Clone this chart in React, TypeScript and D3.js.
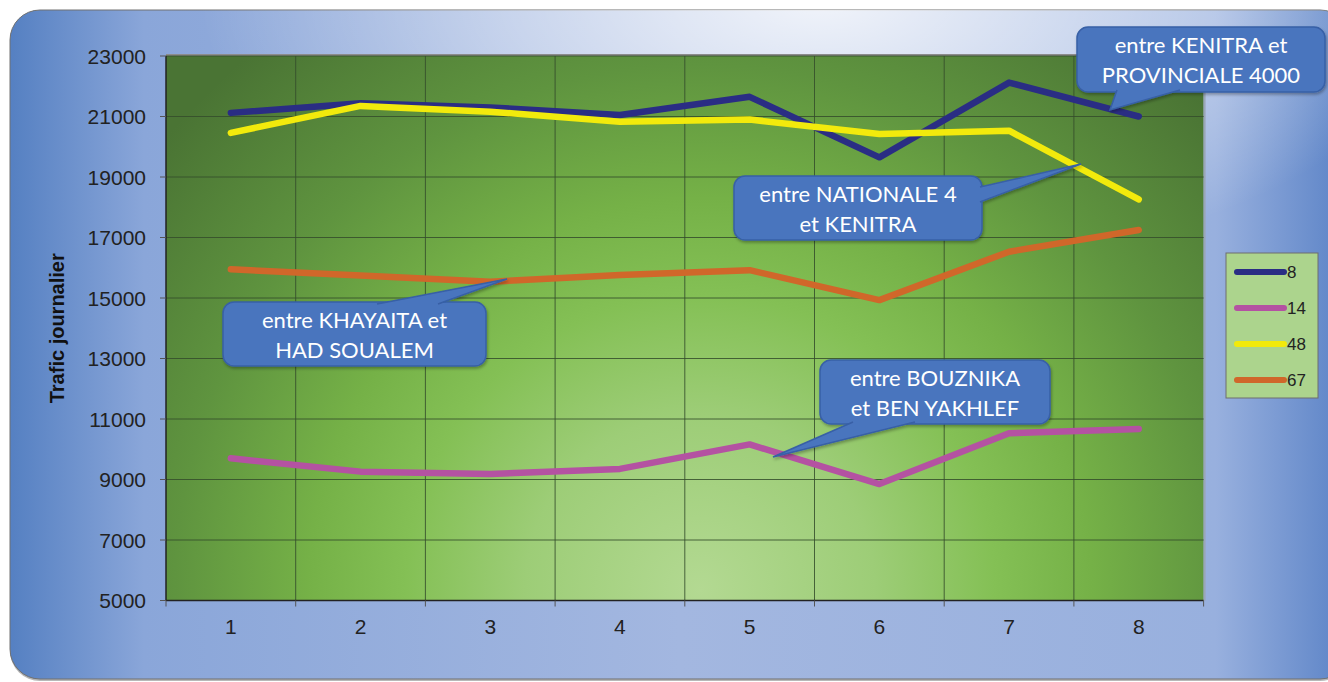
import React from "react";
import * as d3 from "d3";

const categories = ["1", "2", "3", "4", "5", "6", "7", "8"];
const yTicks = [5000, 7000, 9000, 11000, 13000, 15000, 17000, 19000, 21000, 23000];
const seriesNames = ["8", "14", "48", "67"];
const s8 = [21120, 21440, 21300, 21050, 21650, 19650, 22120, 21000];
const s14 = [9700, 9260, 9180, 9350, 10160, 8850, 10530, 10670];
const s48 = [20460, 21350, 21160, 20830, 20900, 20420, 20530, 18260];
const s67 = [15950, 15740, 15540, 15760, 15920, 14930, 16530, 17250];
const seriesColors = ["#2a2d84", "#b452a2", "#f2ea0c", "#d0672a"];
const calloutTexts = [
  ["entre KENITRA et", "PROVINCIALE 4000"],
  ["entre NATIONALE 4", "et KENITRA"],
  ["entre KHAYAITA et", "HAD SOUALEM"],
  ["entre BOUZNIKA", "et BEN YAKHLEF"],
];

const W = 1328;
const H = 682;
const plot = { left: 166, right: 1203.6, top: 56, bottom: 600.5 };

export default function App() {
  const data = [s8, s14, s48, s67];
  const x = d3.scaleBand<string>().domain(categories).range([plot.left, plot.right]).padding(0);
  const cx = (c: string) => (x(c) as number) + x.bandwidth() / 2;
  const y = d3.scaleLinear().domain([5000, 23000]).range([plot.bottom, plot.top]);
  const line = d3
    .line<number>()
    .x((_, i) => cx(categories[i]))
    .y((v) => y(v));

  const boxes = [
    { x0: 1077, y0: 27, x1: 1325, y1: 92, base: [[1117, 92], [1180, 92]] },
    { x0: 734, y0: 176, x1: 982, y1: 240, base: [[982, 187], [982, 202]] },
    { x0: 223, y0: 302, x1: 486, y1: 366, base: [[377, 302], [438, 302]] },
    { x0: 820, y0: 360, x1: 1050, y1: 424, base: [[853, 424], [915, 424]] },
  ];
  const tips = [
    [1110, 110],
    [1081, 164],
    [507, 279],
    [773, 457],
  ];

  return (
    <svg
      width={W}
      height={H}
      style={{ position: "absolute", left: 0, top: 0, background: "#ffffff" }}
      fontFamily="'Liberation Sans', Arial, sans-serif"
    >
      <defs>
        <linearGradient id="bgLin" x1="0" y1="0" x2="1" y2="0">
          <stop offset="0" stopColor="#5580c2" />
          <stop offset="0.1" stopColor="#8aa6d9" />
          <stop offset="0.5" stopColor="#a3b7e0" />
          <stop offset="0.9" stopColor="#98b0de" />
          <stop offset="1" stopColor="#5a82c6" />
        </linearGradient>
        <radialGradient
          id="bgRad"
          gradientUnits="userSpaceOnUse"
          cx="820"
          cy="0"
          r="620"
          gradientTransform="translate(820 0) scale(1 0.45) translate(-820 0)"
        >
          <stop offset="0" stopColor="#ffffff" stopOpacity="0.85" />
          <stop offset="0.5" stopColor="#ffffff" stopOpacity="0.45" />
          <stop offset="1" stopColor="#ffffff" stopOpacity="0" />
        </radialGradient>
        <radialGradient id="plotGrad" gradientUnits="userSpaceOnUse" cx="700" cy="590" r="700">
          <stop offset="0" stopColor="#b3d992" />
          <stop offset="0.25" stopColor="#9dcd77" />
          <stop offset="0.42" stopColor="#84c055" />
          <stop offset="0.56" stopColor="#75b147" />
          <stop offset="0.75" stopColor="#5f943f" />
          <stop offset="1" stopColor="#4a7434" />
        </radialGradient>
        <filter id="shadow" x="-10%" y="-10%" width="130%" height="140%">
          <feDropShadow dx="1" dy="2" stdDeviation="1.5" floodColor="#000" floodOpacity="0.3" />
        </filter>
      </defs>

      {/* outer frame */}
      <rect x={10} y={11} width={1340} height={670} rx={30} fill="#b8b8b8" />
      <rect x={10} y={10} width={1340} height={669} rx={30} fill="url(#bgLin)" stroke="#707070" strokeWidth={1} />
      <rect x={10} y={10} width={1340} height={669} rx={30} fill="url(#bgRad)" />

      {/* plot area */}
      <rect
        x={plot.left}
        y={plot.top}
        width={plot.right - plot.left}
        height={plot.bottom - plot.top}
        fill="url(#plotGrad)"
      />
      <line x1={plot.left} x2={plot.right} y1={plot.top - 1} y2={plot.top - 1} stroke="#8c8c8c" strokeWidth={2} />
      <line x1={plot.right + 1} x2={plot.right + 1} y1={plot.top} y2={plot.bottom} stroke="#9aa6b8" strokeWidth={2} />

      {yTicks.slice(1).map((t) => (
        <line key={"h" + t} x1={plot.left} x2={plot.right} y1={y(t)} y2={y(t)} stroke="#354d2b" strokeWidth={1} strokeOpacity={0.85} />
      ))}
      {categories.slice(1).map((c) => (
        <line key={"v" + c} x1={x(c) as number} x2={x(c) as number} y1={plot.top} y2={plot.bottom} stroke="#354d2b" strokeWidth={1} strokeOpacity={0.85} />
      ))}

      <line x1={plot.left} x2={plot.left} y1={plot.top} y2={plot.bottom} stroke="#222" strokeWidth={1.5} />
      <line x1={plot.left} x2={plot.right} y1={plot.bottom} y2={plot.bottom} stroke="#222" strokeWidth={1.5} />
      {yTicks.map((t) => (
        <g key={"yt" + t}>
          <line x1={plot.left - 6} x2={plot.left} y1={y(t)} y2={y(t)} stroke="#555" strokeWidth={1} />
          <text x={146} y={y(t)} dy="0.36em" textAnchor="end" fontSize={21} fill="#222">
            {t}
          </text>
        </g>
      ))}
      {[...categories.map((c) => x(c) as number), plot.right].map((px, i) => (
        <line key={"xt" + i} x1={px} x2={px} y1={plot.bottom} y2={plot.bottom + 6} stroke="#555" strokeWidth={1} />
      ))}
      {categories.map((c) => (
        <text key={"xl" + c} x={cx(c)} y={634} textAnchor="middle" fontSize={21} fill="#222">
          {c}
        </text>
      ))}
      <text
        transform={`translate(64 ${(plot.top + plot.bottom) / 2}) rotate(-90)`}
        textAnchor="middle"
        fontSize={20}
        fontWeight="bold"
        fill="#111"
      >
        Trafic journalier
      </text>

      {data.map((d, i) => (
        <path
          key={"s" + i}
          d={line(d) as string}
          fill="none"
          stroke={seriesColors[i]}
          strokeWidth={6.5}
          strokeLinejoin="round"
          strokeLinecap="round"
        />
      ))}

      <rect x={1226} y={253} width={92} height={145} fill="#acd48d" stroke="#6e6e6e" strokeWidth={1} />
      {seriesNames.map((n, i) => {
        const ly = 272 + i * 36;
        return (
          <g key={"lg" + n}>
            <line x1={1237} x2={1284} y1={ly} y2={ly} stroke={seriesColors[i]} strokeWidth={6} strokeLinecap="round" />
            <text x={1287} y={ly} dy="0.36em" fontSize={17} fill="#222">
              {n}
            </text>
          </g>
        );
      })}

      {calloutTexts.map((lines, i) => {
        const b = boxes[i];
        const tip = tips[i];
        const inset = (p: number[]) => {
          const [px, py] = p;
          let nx = px;
          let ny = py;
          if (py === b.y1) ny = py - 2;
          else if (py === b.y0) ny = py + 2;
          else if (px === b.x1) nx = px - 2;
          else if (px === b.x0) nx = px + 2;
          return [nx, ny];
        };
        const p1 = inset(b.base[0]);
        const p2 = inset(b.base[1]);
        const mid = (b.x0 + b.x1) / 2;
        return (
          <g key={"co" + i}>
            <g filter="url(#shadow)">
              <rect x={b.x0} y={b.y0} width={b.x1 - b.x0} height={b.y1 - b.y0} rx={11} fill="#4a74be" stroke="#3760a6" strokeWidth={1.5} />
              <path d={`M${p1[0]},${p1[1]} L${tip[0]},${tip[1]} L${p2[0]},${p2[1]}`} fill="#4a74be" stroke="#3760a6" strokeWidth={1.5} strokeLinejoin="miter" />
            </g>
            {lines.map((t, j) => (
              <text key={j} x={mid} y={b.y0 + 26 + j * 30} textAnchor="middle" fontSize={22} fill="#ffffff" fontFamily="Lato, 'Open Sans', sans-serif">
                {t}
              </text>
            ))}
          </g>
        );
      })}
    </svg>
  );
}
